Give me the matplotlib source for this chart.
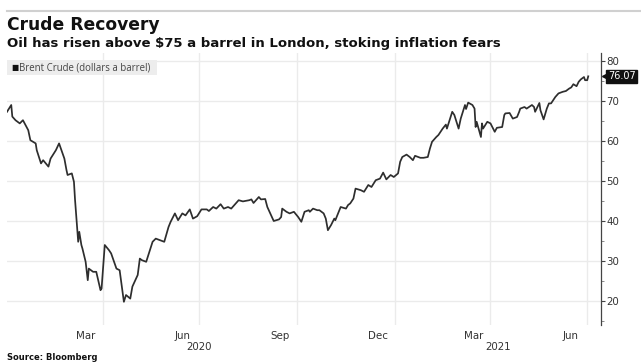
import matplotlib
matplotlib.use("Agg")
import matplotlib.pyplot as plt
from matplotlib.patches import Rectangle
from matplotlib.lines import Line2D
from matplotlib.transforms import blended_transform_factory, offset_copy
import pandas as pd
import numpy as np

# ---- data ----
dates = [
    "2020-01-02", "2020-01-06", "2020-01-07", "2020-01-10", "2020-01-14", "2020-01-17",
    "2020-01-22", "2020-01-24", "2020-01-29", "2020-01-30", "2020-02-03", "2020-02-05",
    "2020-02-10", "2020-02-12", "2020-02-17", "2020-02-20", "2020-02-25", "2020-02-27",
    "2020-02-28", "2020-03-03", "2020-03-05", "2020-03-06", "2020-03-09", "2020-03-10",
    "2020-03-12", "2020-03-13", "2020-03-16", "2020-03-18", "2020-03-19", "2020-03-23",
    "2020-03-26", "2020-03-30", "2020-03-31", "2020-04-03", "2020-04-07", "2020-04-09",
    "2020-04-14", "2020-04-17", "2020-04-21", "2020-04-23", "2020-04-27", "2020-04-29",
    "2020-05-04", "2020-05-06", "2020-05-08", "2020-05-12", "2020-05-15", "2020-05-18",
    "2020-05-21", "2020-05-25", "2020-05-29", "2020-06-02", "2020-06-04", "2020-06-08",
    "2020-06-11", "2020-06-15", "2020-06-18", "2020-06-22", "2020-06-25", "2020-06-29",
    "2020-07-03", "2020-07-08", "2020-07-10", "2020-07-14", "2020-07-17", "2020-07-21",
    "2020-07-24", "2020-07-28", "2020-07-31", "2020-08-04", "2020-08-07", "2020-08-11",
    "2020-08-17", "2020-08-19", "2020-08-21", "2020-08-26", "2020-08-28", "2020-09-01",
    "2020-09-03", "2020-09-08", "2020-09-09", "2020-09-14", "2020-09-16", "2020-09-17",
    "2020-09-21", "2020-09-24", "2020-09-28", "2020-10-02", "2020-10-05", "2020-10-08",
    "2020-10-12", "2020-10-13", "2020-10-16", "2020-10-20", "2020-10-22", "2020-10-26",
    "2020-10-28", "2020-10-30", "2020-11-02", "2020-11-05", "2020-11-06", "2020-11-11",
    "2020-11-16", "2020-11-18", "2020-11-20", "2020-11-23", "2020-11-25", "2020-11-30",
    "2020-12-03", "2020-12-07", "2020-12-10", "2020-12-14", "2020-12-18", "2020-12-21",
    "2020-12-24", "2020-12-28", "2020-12-31", "2021-01-04", "2021-01-06", "2021-01-08",
    "2021-01-12", "2021-01-15", "2021-01-18", "2021-01-20", "2021-01-25", "2021-01-28",
    "2021-02-01", "2021-02-03", "2021-02-05", "2021-02-09", "2021-02-11", "2021-02-15",
    "2021-02-18", "2021-02-19", "2021-02-22", "2021-02-24", "2021-02-26", "2021-03-02",
    "2021-03-04", "2021-03-08", "2021-03-09", "2021-03-11", "2021-03-15", "2021-03-17",
    "2021-03-18", "2021-03-19", "2021-03-23", "2021-03-24", "2021-03-25", "2021-03-29",
    "2021-04-01", "2021-04-05", "2021-04-07", "2021-04-12", "2021-04-14", "2021-04-15",
    "2021-04-19", "2021-04-22", "2021-04-26", "2021-04-28", "2021-04-29", "2021-05-03",
    "2021-05-05", "2021-05-10", "2021-05-12", "2021-05-13", "2021-05-17", "2021-05-18",
    "2021-05-21", "2021-05-24", "2021-05-26", "2021-05-28", "2021-06-01", "2021-06-04",
    "2021-06-08", "2021-06-11", "2021-06-14", "2021-06-16", "2021-06-18", "2021-06-21",
    "2021-06-23", "2021-06-25", "2021-06-28", "2021-06-29", "2021-07-01", "2021-07-02",
]
brent = [
    67.2, 68.9, 66.0, 65.1, 64.3, 65.1,
    62.6, 60.1, 59.3, 57.6, 54.3, 55.1,
    53.5, 55.5, 57.6, 59.3, 55.5, 52.6,
    51.4, 51.8, 49.7, 45.3, 34.7, 37.2,
    33.9, 33.0, 29.7, 25.1, 28.0, 27.2,
    27.2, 22.6, 23.0, 33.9, 32.6, 31.8,
    28.0, 27.6, 19.7, 21.4, 20.5, 23.5,
    26.4, 30.5, 30.1, 29.7, 32.2, 34.7,
    35.5, 35.1, 34.7, 38.4, 39.7, 41.8,
    40.1, 41.8, 41.3, 42.8, 40.5, 41.1,
    42.8, 42.8, 42.4, 43.4, 43.0, 44.1,
    43.0, 43.4, 43.0, 44.2, 45.1, 44.8,
    45.1, 45.3, 44.4, 45.9, 45.3, 45.4,
    43.4, 40.5, 39.9, 40.3, 40.9, 43.0,
    42.2, 41.8, 42.2, 40.9, 39.7, 42.2,
    42.6, 42.2, 43.0, 42.6, 42.6, 41.8,
    40.5, 37.6, 38.9, 40.5, 40.1, 43.4,
    43.0, 43.9, 44.3, 45.5, 48.0, 47.6,
    47.2, 48.9, 48.4, 50.1, 50.5, 52.0,
    50.3, 51.4, 50.9, 51.8, 54.7, 55.9,
    56.5, 55.9, 55.1, 56.2, 55.7, 55.7,
    55.9, 58.0, 59.7, 60.9, 61.4, 63.0,
    64.0, 63.0, 65.5, 67.2, 66.4, 63.0,
    65.5, 68.9, 67.9, 69.5, 68.9, 68.0,
    63.4, 64.7, 60.9, 64.3, 63.0, 64.7,
    64.3, 62.2, 63.2, 63.4, 66.4, 66.8,
    66.9, 65.5, 65.9, 67.2, 68.0, 68.4,
    68.0, 68.9, 68.4, 67.2, 69.4, 67.6,
    65.3, 68.0, 69.3, 69.3, 70.9, 71.8,
    72.2, 72.4, 73.0, 73.3, 74.1, 73.6,
    74.7, 75.3, 75.9, 75.1, 75.1, 76.07,
]
series_label = "Brent Crude (dollars a barrel)"
last_label = "76.07"
title = "Crude Recovery"
subtitle = "Oil has risen above $75 a barrel in London, stoking inflation fears"
source = "Source: Bloomberg"
month_labels = ["Mar", "Jun", "Sep", "Dec", "Mar", "Jun"]
month_label_dates = ["2020-03-16", "2020-06-15", "2020-09-15", "2020-12-16", "2021-03-16", "2021-06-15"]
grid_dates = ["2020-04-01", "2020-07-01", "2020-10-01", "2021-01-01", "2021-04-01", "2021-07-01"]
year_labels = ["2020", "2021"]
year_label_dates = ["2020-07-01", "2021-04-08"]
y_ticks = [20, 30, 40, 50, 60, 70, 80]

x = pd.to_datetime(dates)

W, H = 641, 362
fig = plt.figure(figsize=(W / 100, H / 100), dpi=100)
fig.patch.set_facecolor("white")

ax_left, ax_right, ax_top, ax_bot = 7, 601, 53, 325
ax = fig.add_axes([ax_left / W, 1 - ax_bot / H, (ax_right - ax_left) / W, (ax_bot - ax_top) / H])

ax.plot(x, brent, color="#2e2e2e", lw=1.25, solid_joinstyle="round", zorder=3)

ax.set_xlim(pd.Timestamp("2020-01-02"), pd.Timestamp("2021-07-14"))
ax.set_ylim(13.9, 81.9)

# y axis on right
ax.yaxis.tick_right()
ax.set_yticks(y_ticks)
ax.set_yticks(np.arange(15, 81, 5), minor=True)
ax.tick_params(axis="y", which="major", length=3, width=0.8, color="#444444",
               labelsize=7.4, labelcolor="#333333", pad=1)
ax.tick_params(axis="y", which="minor", length=2, width=0.6, color="#777777")

# x axis: labels mid-month, gridlines at quarter starts
ax.set_xticks(pd.to_datetime(month_label_dates))
ax.set_xticklabels(month_labels)
ax.set_xticks(pd.to_datetime(grid_dates), minor=True)
ax.tick_params(axis="x", which="both", length=0, labelsize=7.4, labelcolor="#333333", pad=4)

ax.grid(axis="y", which="major", color="#ebebeb", lw=1.0, zorder=0)
ax.grid(axis="x", which="minor", color="#ebebeb", lw=1.0, zorder=0)
ax.grid(axis="x", which="major", visible=False)

for s in ["left", "top", "bottom"]:
    ax.spines[s].set_visible(False)
ax.spines["right"].set_color("#444444")
ax.spines["right"].set_linewidth(0.9)

# year labels
tr = blended_transform_factory(ax.transData, ax.transAxes)
for lab, d in zip(year_labels, year_label_dates):
    ax.text(pd.Timestamp(d), -0.062, lab, transform=tr, ha="center", va="top",
            fontsize=7.4, color="#333333")

# last value tag: small pointer + dark box
tag_tr = offset_copy(blended_transform_factory(ax.transAxes, ax.transData), fig=fig, x=3.0, y=0, units="points")
ax.plot([1.0], [brent[-1]], marker="<", markersize=5, color="#111111",
        transform=tag_tr, clip_on=False, zorder=6)
ax.annotate(last_label, xy=(1.0, brent[-1]), xycoords=("axes fraction", "data"),
            xytext=(5.0, 0), textcoords="offset points", ha="left", va="center",
            fontsize=7.0, color="white",
            bbox=dict(boxstyle="square,pad=0.18", fc="#111111", ec="#111111"),
            annotation_clip=False, zorder=7)

# legend box
fig.patches.append(Rectangle((7 / W, 1 - 75 / H), 150 / W, 15 / H, transform=fig.transFigure,
                             facecolor="#ededed", edgecolor="none", zorder=5))
fig.text(11 / W, 1 - 67.5 / H, "\u25A0", fontsize=5.5, color="#111111", va="center", ha="left", zorder=6)
fig.text(19 / W, 1 - 67.5 / H, series_label, fontsize=6.9, color="#444444", va="center", ha="left",
         family="Open Sans", zorder=6)

# top rule
fig.add_artist(Line2D([7 / W, 1.0], [1 - 11 / H, 1 - 11 / H], transform=fig.transFigure,
                      color="#d0d0d0", lw=1.5))

fig.text(7 / W, 1 - 29.5 / H, title, fontsize=12.3, fontweight="bold", family="DejaVu Sans",
         color="#111111", va="baseline", ha="left")
fig.text(7 / W, 1 - 47 / H, subtitle, fontsize=9.5, fontweight="bold", family="DejaVu Sans",
         color="#111111", va="baseline", ha="left")
fig.text(7 / W, 1 - 360 / H, source, fontsize=6.0, fontweight="bold", family="DejaVu Sans",
         color="#111111", va="baseline", ha="left")

fig.savefig("out.png", dpi=100)
